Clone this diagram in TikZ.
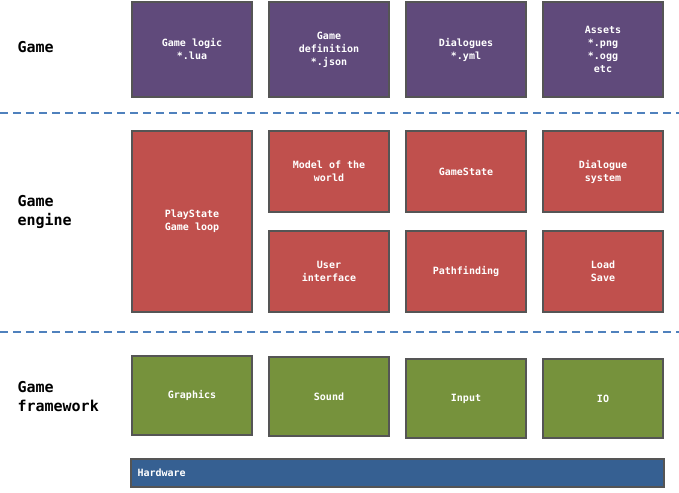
\documentclass[tikz,border=0pt]{standalone}
\usepackage{fontspec}
\setmainfont{DejaVu Sans Mono}
\definecolor{gamecol}{HTML}{604A7B}
\definecolor{enginecol}{HTML}{C0504D}
\definecolor{fwcol}{HTML}{76923C}
\definecolor{hwcol}{HTML}{366092}
\definecolor{linecol}{HTML}{4F81BD}
\definecolor{edgecol}{HTML}{555555}
\tikzset{
  box/.style={draw=edgecol, line width=2.5pt, text=white, font=\bfseries\fontsize{10}{13}\selectfont,
    align=center, minimum width=120pt, inner sep=0pt},
  layer/.style={font=\bfseries\fontsize{15}{19}\selectfont, align=left, anchor=west},
  sep/.style={linecol, line width=2.5pt, dash pattern=on 8pt off 5pt}
}
\begin{document}
\begin{tikzpicture}[x=1pt,y=-1pt]
	\useasboundingbox (0,0) rectangle (679,492);

	% Game
	\node[box, fill=gamecol, minimum height=95pt] (logic) at (192,49.5) {Game logic\\*.lua};
	\node[box, fill=gamecol, minimum height=95pt] (def) at (329,49.5) {Game\\definition\\*.json};
	\node[box, fill=gamecol, minimum height=95pt] (dlg) at (466,49.5) {Dialogues\\*.yml};
	\node[box, fill=gamecol, minimum height=95pt] (assets) at (603,49.5) {Assets\\*.png\\*.ogg\\etc};
	\node[layer] (game) at (14,47) {Game};

	\coordinate (s1a) at (0,113);
	\coordinate (s1b) at (679,113);
	\draw[sep] (s1a) -- (s1b);

	% Game engine
	\node[box, fill=enginecol, minimum height=181pt] (play) at (192,221.5) {PlayState\\Game loop};
	\node[box, fill=enginecol, minimum height=81pt] (model) at (329,171.5) {Model of the\\world};
	\node[box, fill=enginecol, minimum height=81pt] (state) at (466,171.5) {GameState};
	\node[box, fill=enginecol, minimum height=81pt] (dsys) at (603,171.5) {Dialogue\\system};
	\node[box, fill=enginecol, minimum height=81pt] (ui) at (329,271.5) {User\\interface};
	\node[box, fill=enginecol, minimum height=81pt] (path) at (466,271.5) {Pathfinding};
	\node[box, fill=enginecol, minimum height=81pt] (load) at (603,271.5) {Load\\Save};
	\node[layer] (engine) at (14,212) {Game\\engine};

	\coordinate (s2a) at (0,332);
	\coordinate (s2b) at (679,332);
	\draw[sep] (s2a) -- (s2b);

	% Game framework
	\node[box, fill=fwcol, minimum height=79pt] (gfx) at (192,395.5) {Graphics};
	\node[box, fill=fwcol, minimum height=79pt] (snd) at (329,396.5) {Sound};
	\node[box, fill=fwcol, minimum height=79pt] (inp) at (466,398.5) {Input};
	\node[box, fill=fwcol, minimum height=79pt] (io) at (603,398.5) {IO};
	\node[layer] (fw) at (14,397) {Game\\framework};

	% Hardware
	\node[box, fill=hwcol, minimum width=533pt, minimum height=28pt, text width=520pt, align=left] (hw) at (397.5,473) {Hardware};
\end{tikzpicture}
\end{document}
